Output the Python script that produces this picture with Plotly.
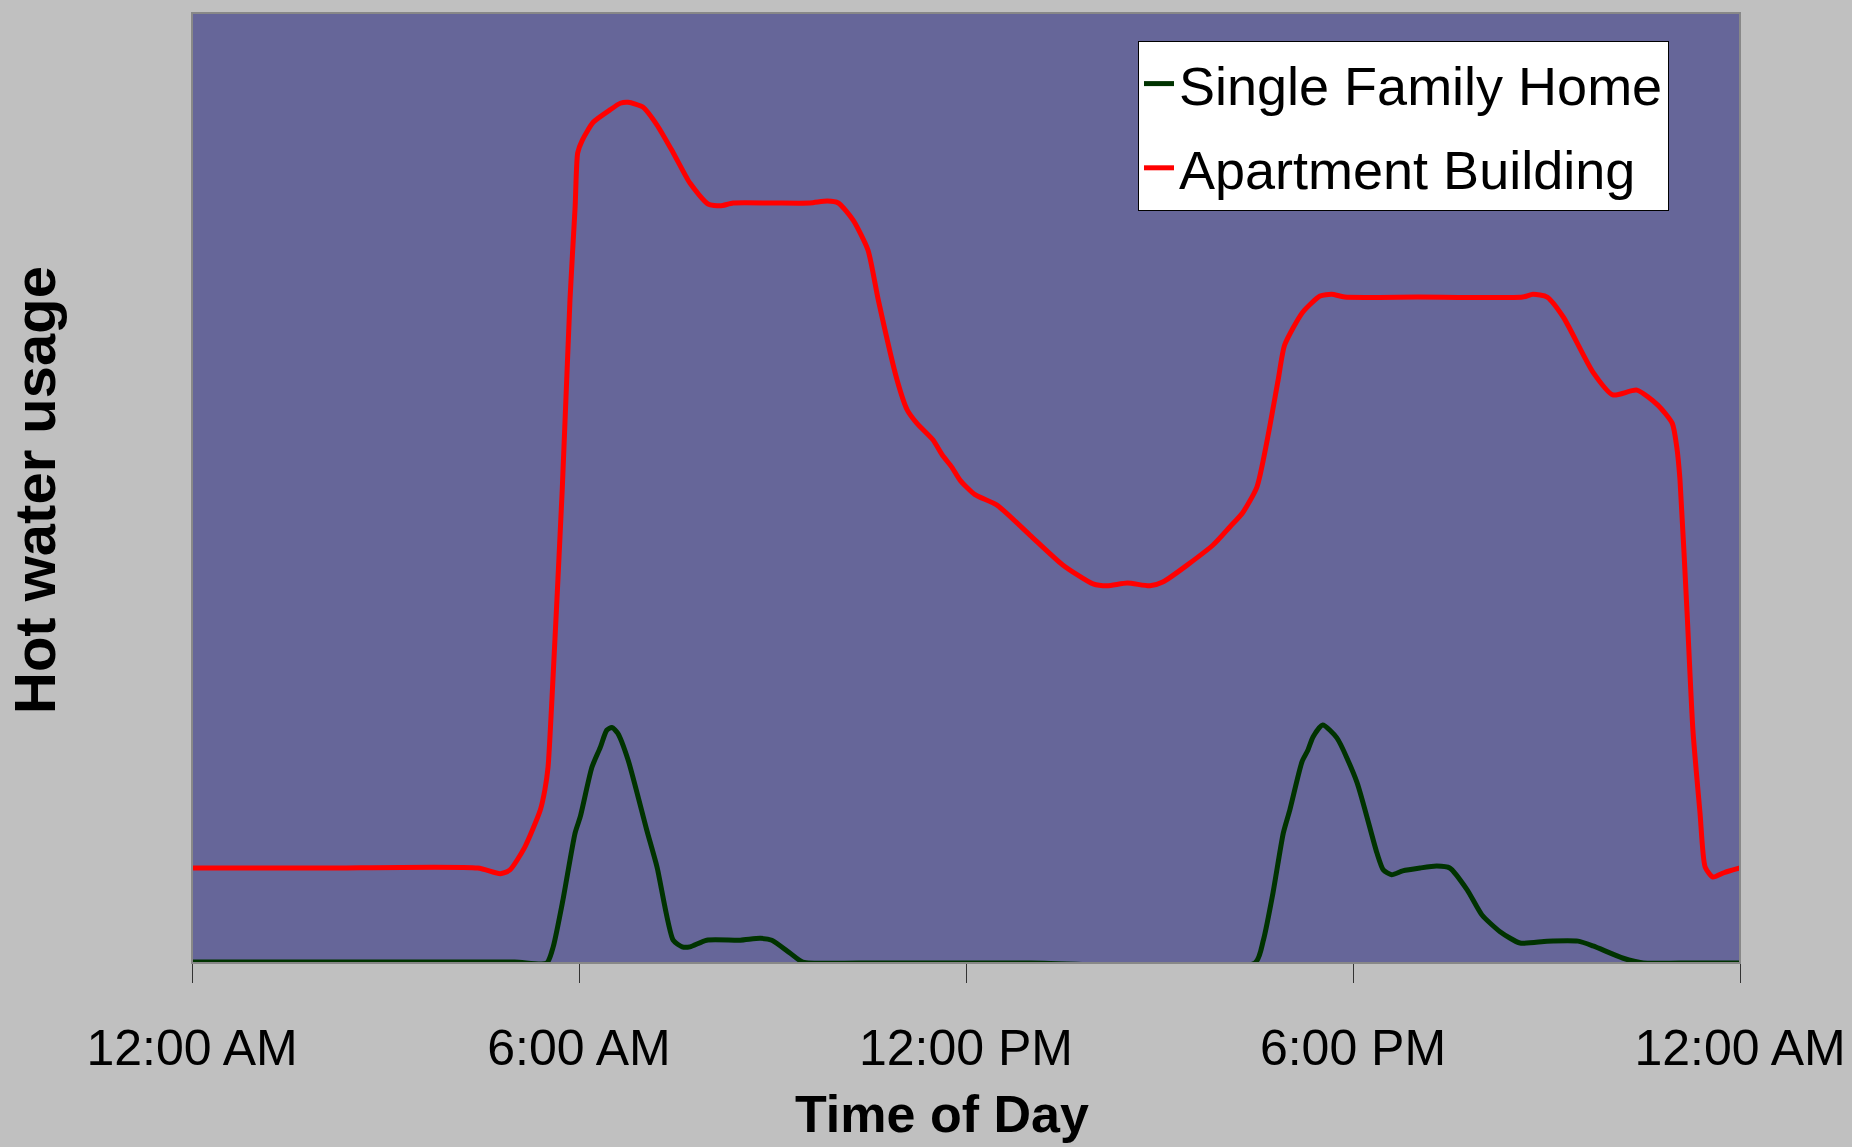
import plotly.graph_objects as go

# Time of day in hours (0 = 12:00 AM, 24 = next 12:00 AM)
apt_hours = [0.0, 2.0, 4.43, 4.78, 4.93, 5.16, 5.40, 5.47, 5.52, 5.58, 5.74, 5.86, 5.94, 5.98,
             6.05, 6.22, 6.48, 6.64, 6.76, 6.99, 7.21, 7.46, 7.72, 8.0, 8.19, 8.39, 9.0, 9.58,
             9.85, 10.02, 10.25, 10.48, 10.64, 10.93, 11.09, 11.24, 11.49, 11.63, 11.78, 11.91,
             12.14, 12.48, 12.99, 13.50, 13.97, 14.19, 14.50, 14.85, 15.05, 15.83, 16.09, 16.29,
             16.51, 16.67, 16.84, 16.94, 17.22, 17.49, 17.67, 17.87, 19.0, 20.63, 20.79, 21.01,
             21.26, 21.72, 22.03, 22.40, 22.73, 22.95, 23.02, 23.07, 23.18, 23.27, 23.38, 23.46,
             23.58, 23.75, 24.0]
apt_usage = [10.0, 10.0, 10.0, 9.4, 9.8, 12.2, 16.1, 18.2, 20.6, 27.7, 49.8, 69.8, 79.6, 85.3,
             86.6, 88.5, 89.8, 90.5, 90.6, 90.1, 88.2, 85.3, 82.1, 79.9, 79.7, 80.0, 80.0, 80.0,
             80.2, 80.0, 78.2, 75.05, 69.8, 61.4, 58.2, 56.8, 55.05, 53.5, 52.2, 50.8,
             49.3, 48.2, 45.05, 41.9, 39.9, 39.7, 40.0, 39.7, 40.1, 44.0, 45.9, 47.4,
             50.1, 55.05, 61.4, 65.05, 68.5, 70.2, 70.4, 70.1, 70.1, 70.1, 70.4, 70.1,
             68.0, 62.2, 59.8, 60.3, 58.7, 56.8, 54.3, 50.8, 36.8, 24.5, 15.8, 10.1,
             9.05, 9.5, 10.0]

home_hours = [0.0, 2.5, 5.0, 5.50, 5.60, 5.75, 5.94, 6.02, 6.20, 6.33, 6.43, 6.51, 6.60, 6.76,
              7.05, 7.21, 7.46, 7.60, 7.72, 7.98, 8.50, 8.81, 8.99, 9.27, 9.47, 10.36, 13.0,
              16.48, 16.61, 16.76, 16.92, 17.02, 17.21, 17.30, 17.38, 17.53, 17.75, 18.06,
              18.37, 18.47, 18.60, 18.77, 19.04, 19.30, 19.50, 19.77, 20.0, 20.28, 20.59,
              21.01, 21.49, 21.72, 22.19, 22.50, 23.07, 24.0]
home_usage = [0.1, 0.1, 0.1, 0.0, 1.7, 6.6, 13.7, 15.4, 20.6, 22.7, 24.5, 24.8, 24.2, 21.4,
              14.0, 10.1, 2.4, 1.7, 1.7, 2.4, 2.4, 2.6, 2.4, 1.05, 0.1, 0.0, 0.0,
              0.0, 2.4, 7.4, 13.7, 16.1, 21.2, 22.4, 23.8, 25.05, 23.7, 19.05,
              11.6, 9.8, 9.3, 9.7, 10.0, 10.2, 10.0, 7.7, 5.05, 3.3, 2.1,
              2.3, 2.3, 1.8, 0.5, 0.0, 0.0, 0.0]

tick_vals = [0, 6, 12, 18, 24]
tick_text = ["12:00 AM", "6:00 AM", "12:00 PM", "6:00 PM", "12:00 AM"]

SANS = "Liberation Sans Narrow, Arial Narrow, Liberation Sans, Arial, sans-serif"
BOLD = "Liberation Sans, Arial, sans-serif"

fig = go.Figure()
fig.add_trace(go.Scatter(x=home_hours, y=home_usage, mode="lines", name="Single Family Home",
                         legendgroup="home",
                         line=dict(color="#003300", width=5, shape="spline", smoothing=0.6)))
fig.add_trace(go.Scatter(x=apt_hours, y=apt_usage, mode="lines", name="Apartment Building",
                         legendgroup="apt",
                         line=dict(color="#FF0000", width=5, shape="spline", smoothing=0.6)))

fig.update_layout(
    width=1852, height=1147,
    margin=dict(l=192, r=112, t=13, b=184, autoexpand=False),
    paper_bgcolor="#C0C0C0",
    plot_bgcolor="#666699",
    showlegend=True,
    legend=dict(x=(1138 - 192) / 1548, y=(963 - 41) / 950, xanchor="left", yanchor="top",
                bgcolor="#FFFFFF", bordercolor="#000000", borderwidth=1,
                font=dict(family=SANS, size=54, color="#000000"),
                tracegroupgap=11),
    xaxis=dict(range=[0, 24], tickvals=tick_vals, ticktext=tick_text,
               ticks="outside", ticklen=19, tickwidth=1, tickcolor="#333333",
               showgrid=False, zeroline=False, showline=True, linecolor="#333333", linewidth=1,
               tickfont=dict(family=SANS, size=50, color="#000000"),
               ticklabelstandoff=22, ticklabeloverflow="allow", automargin=False),
    yaxis=dict(range=[0, 100], showticklabels=False, ticks="", showgrid=False,
               zeroline=False, showline=False, automargin=False),
    shapes=[dict(type="rect", xref="paper", yref="paper", x0=0, x1=1, y0=0, y1=1,
                 line=dict(color="#888888", width=2), layer="above")],
    annotations=[
        dict(text="<b>Time of Day</b>", xref="paper", yref="paper", x=(942 - 192) / 1548,
             y=-(1114 - 963) / 950, xanchor="center", yanchor="middle", showarrow=False,
             font=dict(family=SANS, size=52, color="#000000")),
        dict(text="<b>Hot water usage</b>", xref="paper", yref="paper", x=-(192 - 34) / 1548,
             y=(963 - 490) / 950, xanchor="center", yanchor="middle", showarrow=False,
             textangle=-90, font=dict(family=BOLD, size=58, color="#000000")),
    ],
)

fig.write_html("out.html",
               config={"displayModeBar": False},
               post_script="document.body.style.margin='0';"
                           "document.body.style.background='#C0C0C0';"
                           "document.body.style.overflow='hidden';")
